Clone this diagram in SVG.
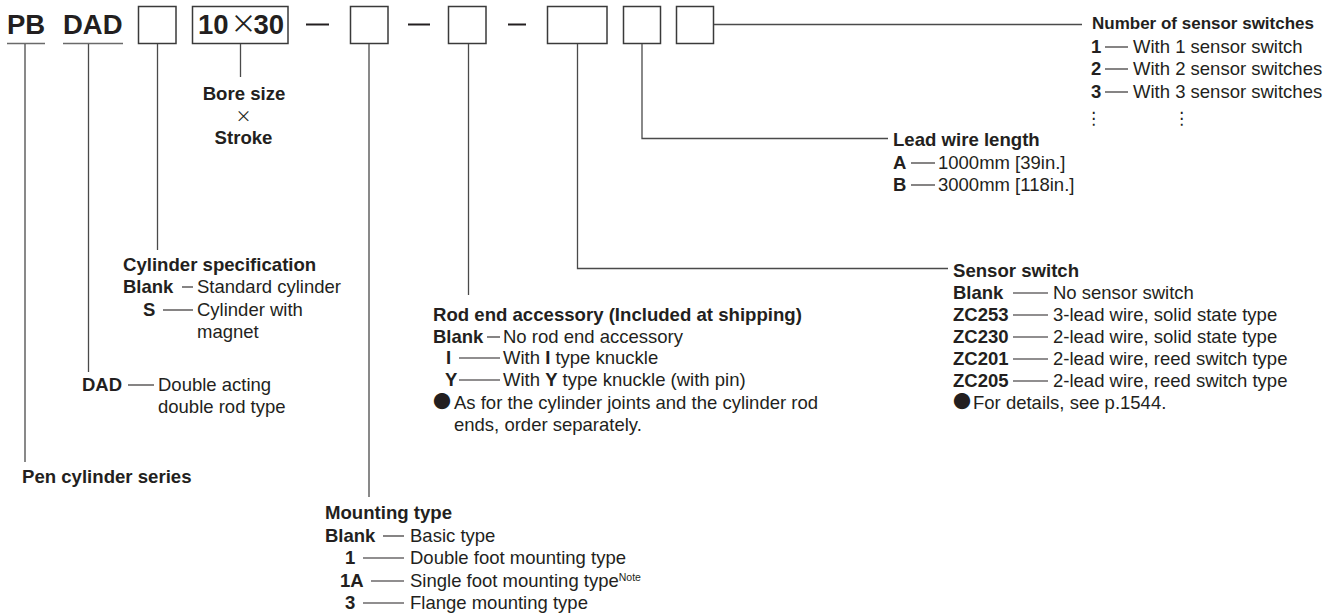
<svg xmlns="http://www.w3.org/2000/svg" width="1342" height="613" viewBox="0 0 1342 613">
<style>
text{font-family:"Liberation Sans",Arial,sans-serif;fill:#231f20}
.code{font-size:27.5px;font-weight:bold}
.h{font-size:18.6px;font-weight:bold}
.b{font-weight:bold}
.t{font-size:18.5px}
.box{fill:#fff;stroke:#3a3a3a;stroke-width:1.5}
.ln{fill:none;stroke:#4a4a4a;stroke-width:1.3}
.ul{stroke:#6a6a6a;stroke-width:1.6}
.d{stroke:#231f20;stroke-width:1.1}
.sep{stroke:#231f20;stroke-width:2}
.sym{font-family:"Noto Sans CJK JP","DejaVu Sans",sans-serif}
.dots{font-family:"DejaVu Sans",sans-serif;font-size:17px}
</style>
<rect width="1342" height="613" fill="#fff"/>
<g id="code-row">
<text class="code" x="7" y="34">PB</text>
<line class="ul" x1="7" y1="43.5" x2="45" y2="43.5"/>
<text class="code" x="63" y="34">DAD</text>
<line class="ul" x1="63" y1="43.5" x2="123" y2="43.5"/>
<rect class="box" x="138.5" y="6.5" width="37.5" height="37"/>
<rect class="box" x="192.5" y="6.5" width="95.5" height="37"/>
<text class="code" x="198" y="34">10</text>
<text class="sym" x="243.5" y="32.5" font-size="26" text-anchor="middle">×</text>
<text class="code" x="284" y="34" text-anchor="end">30</text>
<line class="sep" x1="306" y1="24.5" x2="329" y2="24.5"/>
<rect class="box" x="350.5" y="6.5" width="37.5" height="37"/>
<line class="sep" x1="408" y1="24.5" x2="430" y2="24.5"/>
<rect class="box" x="448.5" y="6.5" width="37.5" height="37"/>
<line class="sep" x1="508" y1="24.5" x2="526" y2="24.5"/>
<rect class="box" x="547.5" y="6.5" width="59.5" height="37"/>
<rect class="box" x="623.5" y="6.5" width="37" height="37"/>
<rect class="box" x="676.5" y="6.5" width="37" height="37"/>
</g>
<g id="connectors">
<line class="ln" x1="25" y1="44" x2="25" y2="462"/>
<line class="ln" x1="88.5" y1="44" x2="88.5" y2="372"/>
<line class="ln" x1="157.5" y1="44" x2="157.5" y2="250"/>
<line class="ln" x1="240.5" y1="44" x2="240.5" y2="77"/>
<line class="ln" x1="369" y1="44" x2="369" y2="497"/>
<line class="ln" x1="468.5" y1="44" x2="468.5" y2="295"/>
<polyline class="ln" points="577.5,44 577.5,268.5 948,268.5"/>
<polyline class="ln" points="642,44 642,138.5 888,138.5"/>
<line class="ln" x1="714" y1="24.5" x2="1082" y2="24.5"/>
</g>
<g id="number-of-switches">
<text x="1092" y="29" font-size="17" font-weight="bold">Number of sensor switches</text>
<text class="t b" x="1091" y="53">1</text><line class="d" x1="1105" y1="47" x2="1128" y2="47"/><text class="t" x="1133" y="53">With 1 sensor switch</text>
<text class="t b" x="1091" y="75">2</text><line class="d" x1="1105" y1="69" x2="1128" y2="69"/><text class="t" x="1133" y="75">With 2 sensor switches</text>
<text class="t b" x="1091" y="98">3</text><line class="d" x1="1105" y1="92" x2="1128" y2="92"/><text class="t" x="1133" y="98">With 3 sensor switches</text>
<text class="dots" x="1085" y="124">⋮</text>
<text class="dots" x="1173" y="124">⋮</text>
</g>
<g id="bore-stroke">
<text class="h" x="244" y="100" text-anchor="middle" font-size="17.5">Bore size</text>
<text class="sym" x="243.5" y="122" font-size="16" text-anchor="middle">×</text>
<text class="h" x="243.5" y="144" text-anchor="middle" font-size="17.5">Stroke</text>
</g>
<g id="lead-wire">
<text class="h" x="893" y="146">Lead wire length</text>
<text class="t b" x="893" y="169">A</text><line class="d" x1="911" y1="163" x2="935" y2="163"/><text class="t" x="938" y="169">1000mm [39in.]</text>
<text class="t b" x="893" y="191">B</text><line class="d" x1="911" y1="185" x2="935" y2="185"/><text class="t" x="938" y="191">3000mm [118in.]</text>
</g>
<g id="cylinder-spec">
<text class="h" x="123" y="271">Cylinder specification</text>
<text class="t b" x="123" y="293">Blank</text><line class="d" x1="182" y1="287" x2="193" y2="287"/><text class="t" x="197" y="293">Standard cylinder</text>
<text class="t b" x="143" y="316">S</text><line class="d" x1="163" y1="310" x2="193" y2="310"/><text class="t" x="197" y="316">Cylinder with</text>
<text class="t" x="197" y="338">magnet</text>
</g>
<g id="dad">
<text class="t b" x="82" y="391">DAD</text><line class="d" x1="128" y1="385" x2="154" y2="385"/><text class="t" x="158" y="391">Double acting</text>
<text class="t" x="158" y="413">double rod type</text>
</g>
<g id="pen-series">
<text class="h" x="22" y="483">Pen cylinder series</text>
</g>
<g id="rod-end">
<text class="h" x="433" y="321" font-size="18.4">Rod end accessory (Included at shipping)</text>
<text class="t b" x="433" y="343">Blank</text><line class="d" x1="487" y1="337" x2="500" y2="337"/><text class="t" x="503" y="343">No rod end accessory</text>
<text class="t b" x="446" y="364">I</text><line class="d" x1="459" y1="358" x2="500" y2="358"/><text class="t" x="503" y="364">With <tspan class="b">I</tspan> type knuckle</text>
<text class="t b" x="445" y="386">Y</text><line class="d" x1="459" y1="380" x2="500" y2="380"/><text class="t" x="503" y="386">With <tspan class="b">Y</tspan> type knuckle (with pin)</text>
<text class="sym" x="433" y="408" font-size="18">●</text><text class="t" x="454" y="409">As for the cylinder joints and the cylinder rod</text>
<text class="t" x="454" y="431">ends, order separately.</text>
</g>
<g id="sensor-switch">
<text class="h" x="953" y="277">Sensor switch</text>
<text class="t b" x="953" y="299">Blank</text><line class="d" x1="1013" y1="293" x2="1048" y2="293"/><text class="t" x="1053" y="299">No sensor switch</text>
<text class="t b" x="953" y="321">ZC253</text><line class="d" x1="1013" y1="315" x2="1048" y2="315"/><text class="t" x="1053" y="321">3-lead wire, solid state type</text>
<text class="t b" x="953" y="343">ZC230</text><line class="d" x1="1013" y1="337" x2="1048" y2="337"/><text class="t" x="1053" y="343">2-lead wire, solid state type</text>
<text class="t b" x="953" y="365">ZC201</text><line class="d" x1="1013" y1="359" x2="1048" y2="359"/><text class="t" x="1053" y="365">2-lead wire, reed switch type</text>
<text class="t b" x="953" y="387">ZC205</text><line class="d" x1="1013" y1="381" x2="1048" y2="381"/><text class="t" x="1053" y="387">2-lead wire, reed switch type</text>
<text class="sym" x="953" y="408" font-size="18">●</text><text class="t" x="973" y="409">For details, see p.1544.</text>
</g>
<g id="mounting">
<text class="h" x="325" y="519">Mounting type</text>
<text class="t b" x="325" y="542">Blank</text><line class="d" x1="383" y1="536" x2="404" y2="536"/><text class="t" x="410" y="542">Basic type</text>
<text class="t b" x="345" y="564">1</text><line class="d" x1="363" y1="558" x2="404" y2="558"/><text class="t" x="410" y="564">Double foot mounting type</text>
<text class="t b" x="340" y="587">1A</text><line class="d" x1="371" y1="581" x2="404" y2="581"/><text class="t" x="410" y="587">Single foot mounting type<tspan font-size="10.5" dy="-6">Note</tspan></text>
<text class="t b" x="345" y="609">3</text><line class="d" x1="363" y1="603" x2="404" y2="603"/><text class="t" x="410" y="609">Flange mounting type</text>
</g>
</svg>
